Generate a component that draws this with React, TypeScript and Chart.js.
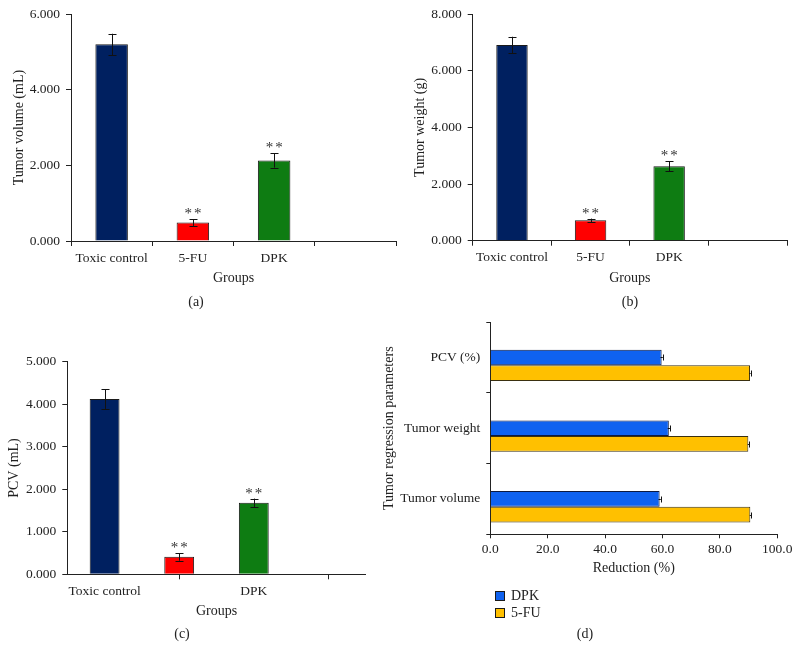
import React, { useEffect, useRef } from 'react';
import { Chart, registerables } from 'chart.js';

Chart.register(...registerables);

const FONT = "'Liberation Serif', 'Times New Roman', serif";
const INK = '#222222';

// ---- Data (a)-(c) ----
const groups = ['Toxic control', '5-FU', 'DPK', ''];
const groupColors = ['#002060', '#FF0000', '#0E7C12'];
const significance = ['', '**', '**'];

const volumeMeans = [5.2, 0.49, 2.13];
const volumeErrors = [0.28, 0.09, 0.19];
const volumeTicks = [0, 2, 6]; // min, step, max

const weightMeans = [6.91, 0.72, 2.63];
const weightErrors = [0.29, 0.06, 0.17];
const weightTicks = [0, 2, 8];

const pcvMeans = [4.12, 0.41, 1.68];
const pcvErrors = [0.23, 0.09, 0.1];
const pcvTicks = [0, 1, 5];

// ---- Data (d) ----
const regressionParams = ['PCV (%)', 'Tumor weight', 'Tumor volume'];
const seriesNames = ['DPK', '5-FU'];
const seriesColors = ['#0F62F0', '#FFC000'];
const dpkReduction = [59.7, 62.2, 59.0];
const fuReduction = [90.5, 89.9, 90.6];
const dpkReductionErr = [0.4, 0.4, 0.4];
const fuReductionErr = [0.2, 0.2, 0.2];
const reductionTicks = [0, 20, 100];

type Dims = {
  top: number;
  right: number;
  xHeight: number;
  xTitlePad: number;
  yWidth: number;
  yTitlePad: number;
  tickPad: number;
};

function verticalErrorPlugin(means: number[], errors: number[], stars: string[]) {
  return {
    id: 'errorBarsV',
    afterDatasetsDraw(chart: any) {
      const ctx = chart.ctx;
      const meta = chart.getDatasetMeta(0);
      const ys = chart.scales.y;
      ctx.save();
      ctx.strokeStyle = '#111';
      ctx.lineWidth = 1;
      means.forEach((m, i) => {
        const bar = meta.data[i];
        if (!bar) return;
        const x = Math.round(bar.x) + 0.5;
        const yt = ys.getPixelForValue(m + errors[i]);
        const yb = ys.getPixelForValue(m - errors[i]);
        ctx.beginPath();
        ctx.moveTo(x, yt);
        ctx.lineTo(x, yb);
        ctx.moveTo(x - 4, Math.round(yt) + 0.5);
        ctx.lineTo(x + 4, Math.round(yt) + 0.5);
        ctx.moveTo(x - 4, Math.round(yb) + 0.5);
        ctx.lineTo(x + 4, Math.round(yb) + 0.5);
        ctx.stroke();
        if (stars[i]) {
          ctx.fillStyle = '#333';
          ctx.font = `15px ${FONT}`;
          ctx.textAlign = 'center';
          ctx.textBaseline = 'alphabetic';
          try {
            (ctx as any).letterSpacing = '2px';
          } catch (e) {}
          ctx.fillText(stars[i], bar.x + 1, yt - 1);
          try {
            (ctx as any).letterSpacing = '0px';
          } catch (e) {}
        }
      });
      ctx.restore();
    },
  };
}

function horizontalErrorPlugin(errs: number[][]) {
  return {
    id: 'errorBarsH',
    afterDatasetsDraw(chart: any) {
      const ctx = chart.ctx;
      const xs = chart.scales.x;
      ctx.save();
      ctx.strokeStyle = '#111';
      ctx.lineWidth = 1;
      errs.forEach((e, k) => {
        const dsIndex = k + 1;
        const meta = chart.getDatasetMeta(dsIndex);
        const values = chart.data.datasets[dsIndex].data as number[];
        values.forEach((v, i) => {
          const bar = meta.data[i];
          if (!bar) return;
          const y = Math.round(bar.y) + 0.5;
          const xl = xs.getPixelForValue(v - e[i]);
          const xr = xs.getPixelForValue(v + e[i]);
          ctx.beginPath();
          ctx.moveTo(xl, y);
          ctx.lineTo(xr, y);
          ctx.moveTo(Math.round(xr) + 0.5, y - 3);
          ctx.lineTo(Math.round(xr) + 0.5, y + 3);
          ctx.stroke();
        });
      });
      ctx.restore();
    },
  };
}

function groupBarConfig(
  means: number[],
  errors: number[],
  yTitle: string,
  ticks: number[],
  d: Dims
): any {
  return {
    type: 'bar',
    data: {
      labels: groups,
      datasets: [
        {
          data: [...means, null],
          backgroundColor: groupColors,
          borderColor: '#1a1a1a',
          borderWidth: 1,
          barPercentage: 0.4,
          categoryPercentage: 1,
        },
      ],
    },
    options: {
      animation: false,
      responsive: false,
      maintainAspectRatio: false,
      events: [],
      layout: { padding: { top: d.top, right: d.right, left: 0, bottom: 0 } },
      plugins: { legend: { display: false }, tooltip: { enabled: false } },
      scales: {
        x: {
          grid: { drawOnChartArea: false, offset: true, color: INK, tickLength: 5 },
          border: { color: INK },
          ticks: { padding: d.tickPad, color: INK, font: { family: FONT, size: 13.5 }, maxRotation: 0 },
          title: {
            display: true,
            text: 'Groups',
            color: INK,
            font: { family: FONT, size: 14 },
            padding: { top: 0, bottom: d.xTitlePad },
          },
          afterFit: (s: any) => {
            s.height = d.xHeight;
          },
        },
        y: {
          min: ticks[0],
          max: ticks[2],
          grid: { drawOnChartArea: false, color: INK, tickLength: 5 },
          border: { color: INK },
          ticks: {
            stepSize: ticks[1],
            padding: 6,
            color: INK,
            font: { family: FONT, size: 13.5 },
            callback: (v: any) => Number(v).toFixed(3),
          },
          title: {
            display: true,
            text: yTitle,
            color: INK,
            font: { family: FONT, size: 14 },
            padding: { top: d.yTitlePad, bottom: 0 },
          },
          afterFit: (s: any) => {
            s.width = d.yWidth;
          },
        },
      },
    },
    plugins: [verticalErrorPlugin(means, errors, significance)],
  };
}

function reductionConfig(): any {
  return {
    type: 'bar',
    data: {
      labels: regressionParams,
      datasets: [
        { label: '', data: [null, null, null], backgroundColor: 'rgba(0,0,0,0)', borderWidth: 0 },
        {
          label: seriesNames[0],
          data: dpkReduction,
          backgroundColor: seriesColors[0],
          borderColor: '#0d1a40',
          borderWidth: 1,
        },
        {
          label: seriesNames[1],
          data: fuReduction,
          backgroundColor: seriesColors[1],
          borderColor: '#3a3010',
          borderWidth: 1,
        },
      ],
    },
    options: {
      indexAxis: 'y',
      animation: false,
      responsive: false,
      maintainAspectRatio: false,
      events: [],
      datasets: { bar: { barPercentage: 1, categoryPercentage: 0.663 } },
      layout: { padding: { top: 0, right: 22.7, left: 0, bottom: 0 } },
      plugins: { legend: { display: false }, tooltip: { enabled: false } },
      scales: {
        x: {
          min: reductionTicks[0],
          max: reductionTicks[2],
          grid: { drawOnChartArea: false, color: INK, tickLength: 4 },
          border: { color: INK },
          ticks: {
            stepSize: reductionTicks[1],
            padding: 3,
            color: INK,
            font: { family: FONT, size: 13.5 },
            callback: (v: any) => Number(v).toFixed(1),
          },
          title: {
            display: true,
            text: 'Reduction (%)',
            color: INK,
            font: { family: FONT, size: 14 },
            padding: { top: 0, bottom: 73.6 },
          },
          afterFit: (s: any) => {
            s.height = 115.7;
          },
        },
        y: {
          grid: { drawOnChartArea: false, offset: true, color: INK, tickLength: 4 },
          border: { color: INK },
          ticks: { padding: 6, color: INK, font: { family: FONT, size: 13.5 } },
          title: {
            display: true,
            text: 'Tumor regression parameters',
            color: INK,
            font: { family: FONT, size: 14 },
            padding: { top: 8.6, bottom: 0 },
          },
          afterFit: (s: any) => {
            s.width = 118.3;
          },
        },
      },
    },
    plugins: [horizontalErrorPlugin([dpkReductionErr, fuReductionErr])],
  };
}

function ChartCanvas({
  left,
  top,
  width,
  height,
  make,
}: {
  left: number;
  top: number;
  width: number;
  height: number;
  make: () => any;
}) {
  const ref = useRef<HTMLCanvasElement | null>(null);
  useEffect(() => {
    if (!ref.current) return;
    const chart = new Chart(ref.current, make());
    return () => chart.destroy();
  }, []);
  return (
    <canvas
      ref={ref}
      width={width}
      height={height}
      style={{ position: 'absolute', left, top, width, height, display: 'block' }}
    />
  );
}

const labelStyle = (x: number, y: number): React.CSSProperties => ({
  position: 'absolute',
  left: x,
  top: y,
  transform: 'translate(-50%, -50%)',
  fontFamily: FONT,
  fontSize: 14,
  color: INK,
  whiteSpace: 'nowrap',
  lineHeight: 1,
});

export default function App() {
  Chart.defaults.font.family = FONT;
  Chart.defaults.color = INK;
  return (
    <div
      style={{
        position: 'absolute',
        left: 0,
        top: 0,
        width: 800,
        height: 650,
        background: '#ffffff',
        overflow: 'hidden',
      }}
    >
      <ChartCanvas
        left={0}
        top={0}
        width={400}
        height={320}
        make={() =>
          groupBarConfig(volumeMeans, volumeErrors, 'Tumor volume (mL)', volumeTicks, {
            top: 14,
            right: 4,
            xHeight: 79,
            xTitlePad: 33.6,
            yWidth: 71,
            yTitlePad: 11,
            tickPad: 4,
          })
        }
      />
      <ChartCanvas
        left={400}
        top={0}
        width={400}
        height={320}
        make={() =>
          groupBarConfig(weightMeans, weightErrors, 'Tumor weight (g)', weightTicks, {
            top: 13.3,
            right: 13,
            xHeight: 79.3,
            xTitlePad: 33.6,
            yWidth: 72.7,
            yTitlePad: 11.6,
            tickPad: 4,
          })
        }
      />
      <ChartCanvas
        left={0}
        top={320}
        width={372}
        height={330}
        make={() =>
          groupBarConfig(pcvMeans, pcvErrors, 'PCV (mL)', pcvTicks, {
            top: 41.7,
            right: 6.3,
            xHeight: 75.7,
            xTitlePad: 30.6,
            yWidth: 67.3,
            yTitlePad: 6,
            tickPad: 3.6,
          })
        }
      />
      <ChartCanvas left={372} top={308} width={428} height={342} make={reductionConfig} />

      <div style={{ position: 'absolute', left: 495, top: 587, fontFamily: FONT, fontSize: 14, color: INK }}>
        {seriesNames.map((name, i) => (
          <div key={name} style={{ display: 'flex', alignItems: 'center', height: 17 }}>
            <span
              style={{
                display: 'inline-block',
                width: 8,
                height: 8,
                background: seriesColors[i],
                border: '1px solid #1a1a1a',
                marginRight: 6,
              }}
            />
            <span>{name}</span>
          </div>
        ))}
      </div>

      <div style={labelStyle(196, 302)}>(a)</div>
      <div style={labelStyle(630, 302)}>(b)</div>
      <div style={labelStyle(182, 634)}>(c)</div>
      <div style={labelStyle(585, 634)}>(d)</div>
    </div>
  );
}
